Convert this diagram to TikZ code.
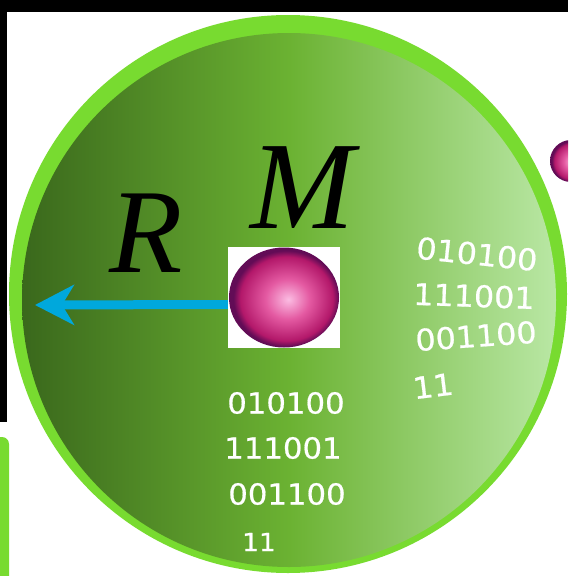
\documentclass[tikz,border=0pt]{standalone}
\usepackage{fontspec}
\setmainfont{Liberation Serif}
\newfontfamily\bitfont[FakeStretch=1.06, FakeBold=0.6]{DejaVu Sans}
\usetikzlibrary{positioning, arrows.meta}

\definecolor{ringgreen}{HTML}{78DB30}
\definecolor{coreleft}{HTML}{3A681C}
\definecolor{coremid}{HTML}{6BB232}
\definecolor{coreright}{HTML}{B9E7A4}
\definecolor{radcyan}{HTML}{00A8DC}
\definecolor{ballhi}{HTML}{FBBCE2}
\definecolor{ballmid}{HTML}{E45AA2}
\definecolor{balldeep}{HTML}{B3186A}
\definecolor{ballrim}{HTML}{620C56}

\pgfdeclareradialshading{massball}{\pgfpoint{2bp}{-1bp}}{%
  color(0bp)=(ballhi); color(10bp)=(ballmid); color(21bp)=(balldeep);
  color(24bp)=(ballrim); color(25bp)=(ballrim); color(50bp)=(ballrim)}

\begin{document}
\begin{tikzpicture}[
    x=1pt, y=-1pt,
    letter/.style={font=\itshape\fontsize{#1}{#1}\selectfont, inner sep=0pt, anchor=base west},
    bits/.style={text=white, font=\bitfont\fontsize{#1}{#1}\selectfont, inner sep=0pt},
    bits/.default=29,
    masssq/.style={rectangle, fill=white, inner sep=0pt,
        minimum width=112pt, minimum height=101pt},
    radarrow/.style={-{Stealth[length=39pt, width=40pt, inset=12pt]},
        draw=radcyan, line width=9pt}
]
\useasboundingbox (0,0) rectangle (568,576);
\clip (0,0) rectangle (568,576);

% --- page remnants ---
\fill[white] (0,0) rectangle (568,576);
\fill[black] (0,0) rectangle (568,12);
\fill[black] (0,0) rectangle (7,422);
\fill[ringgreen, rounded corners=7pt] (-20,437) rectangle (9,600);

% --- big sphere ---
\fill[ringgreen] (288,294) circle[radius=279pt];
\shade[left color=coreleft, right color=coreright, middle color=coremid]
    (289,300) circle[radius=267pt];

% --- outer mass ---
\shade[shading=massball] (571,161) ellipse[x radius=21pt, y radius=21pt];

% --- labels ---
\node[letter=120] (labR) at (109,272) {R};
\node[letter=125] (labM) at (250,228) {M};

% --- bits, lower block ---
\node[bits] (lowA) at (286,403) {010100};
\node[bits] (lowB) at (283,448) {111001};
\node[bits] (lowC) at (287,494) {001100};
\node[bits=25] (lowD) at (259,542) {11};

% --- bits, right block ---
\node[bits=30, rotate=-6] (sideA) at (477,254) {010100};
\node[bits=30, rotate=-2] (sideB) at (474,296) {111001};
\node[bits=30, rotate=4] (sideC) at (476,336) {001100};
\node[bits=30, rotate=7] (sideD) at (433,386) {11};

% --- central mass ---
\node[masssq] (mass) at (284,297.5) {};
\shade[shading=massball] (mass.center) ellipse[x radius=55pt, y radius=50pt];

% --- radius ---
\coordinate (tip) at (35,305);
\draw[radarrow] ([yshift=-7pt]mass.west) -- (tip);

\end{tikzpicture}
\end{document}
